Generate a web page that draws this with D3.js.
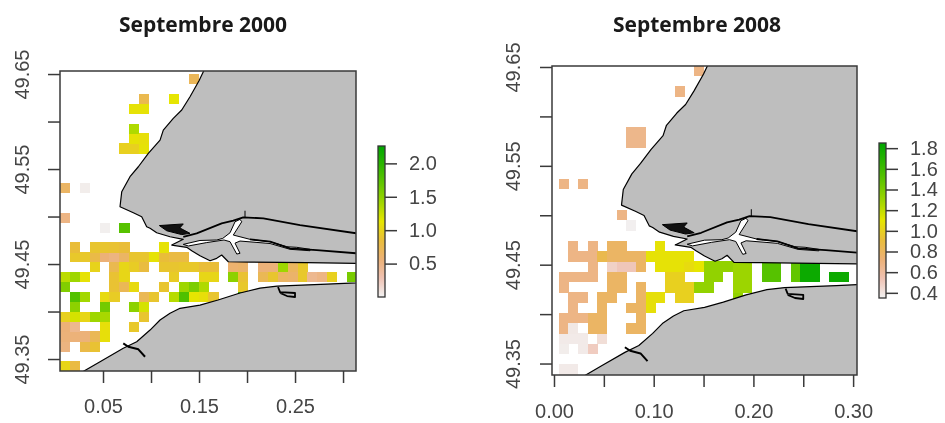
<html lang="fr">
<head>
<meta charset="utf-8">
<title>Septembre 2000 / Septembre 2008</title>
<script src="https://d3js.org/d3.v7.min.js"></script>
<style>
  body { margin: 0; background: #fff; }
  svg { display: block; filter: blur(0.4px); }
  text { font-family: "Liberation Sans", sans-serif; fill: #454545; font-size: 20px; }
  .title { font-family: "Open Sans", sans-serif; font-weight: 700; font-size: 21px; fill: #1a1a1a; }
  .cell { shape-rendering: crispEdges; }
  .domain, .tick line { stroke: #3a3a3a; stroke-width: 1.5px; }
</style>
</head>
<body>
<script>
// grid centres of the two maps
var lons2000 = [0.0104,0.0207,0.0310,0.0413,0.0516,0.0619,0.0722,0.0825,0.0928,0.1031,0.1135,0.1238,0.1341,0.1444,0.1547,0.1650,0.1753,0.1856,0.1959,0.2062,0.2166,0.2269,0.2372,0.2475,0.2578,0.2681,0.2784,0.2887,0.2990,0.3093]
var lats2000 = [49.3426,49.3530,49.3634,49.3739,49.3843,49.3947,49.4051,49.4155,49.4260,49.4364,49.4468,49.4572,49.4676,49.4781,49.4885,49.4989,49.5093,49.5197,49.5302,49.5406,49.5510,49.5614,49.5718,49.5823,49.5927,49.6031,49.6135,49.6239,49.6344,49.6448]
var lons2008 = [0.0095,0.0192,0.0289,0.0386,0.0483,0.0580,0.0677,0.0774,0.0871,0.0968,0.1065,0.1162,0.1259,0.1356,0.1453,0.1550,0.1647,0.1744,0.1841,0.1938,0.2035,0.2132,0.2229,0.2326,0.2423,0.2520,0.2617,0.2714,0.2811,0.2908]
var lats2008 = [49.3439,49.3543,49.3648,49.3752,49.3856,49.3961,49.4065,49.4169,49.4273,49.4378,49.4482,49.4586,49.4691,49.4795,49.4899,49.5004,49.5108,49.5212,49.5316,49.5421,49.5525,49.5629,49.5733,49.5838,49.5942,49.6046,49.6150,49.6255,49.6359,49.6463]

// [column, row, value]
var cells2000 = [
  [0,0,1.02],[1,0,.8],
  [0,2,.52],[2,2,.78],[3,2,.88],
  [0,3,.55],[1,3,.55],[2,3,.55],[3,3,.72],[4,3,1.08],
  [0,4,.56],[1,4,.45],[4,4,1.08],[7,4,.92],
  [0,5,.98],[1,5,1.2],[2,5,1.02],[3,5,1.42],[4,5,1.38],[8,5,.9],
  [1,6,1.5],[4,6,1.62],[7,6,1.5],[8,6,1.2],
  [1,7,1.78],[2,7,1.4],[4,7,1.05],[5,7,.95],[8,7,.72],[9,7,.9],[11,7,1.32],[12,7,1.8],[13,7,1.12],[14,7,1.08],[15,7,.9],[18,7,1.95],
  [0,8,1.55],[5,8,.88],[6,8,.72],[7,8,1.05],[10,8,.9],[12,8,1.42],[13,8,1.58],[14,8,1.35],[18,8,.92],
  [0,9,1.3],[1,9,1.42],[2,9,1.1],[5,9,.88],[6,9,1.02],[11,9,.95],[14,9,1.02],[15,9,1.02],[17,9,1.5],[18,9,.88],[20,9,.72],[21,9,.9],[22,9,.65],[23,9,.62],[24,9,.92],[25,9,.45],[26,9,.5],[27,9,.98],[29,9,1.6],
  [3,10,1.0],[5,10,.75],[6,10,1.02],[7,10,.95],[8,10,.82],[10,10,.9],[11,10,.9],[12,10,.92],[13,10,.92],[14,10,.85],[15,10,.85],[17,10,.6],[18,10,.62],[20,10,.55],[21,10,.55],[22,10,1.42],[23,10,.68],[24,10,.92],
  [1,11,.92],[2,11,.92],[3,11,.78],[4,11,.56],[5,11,.52],[6,11,.65],[7,11,.9],[8,11,.9],[9,11,1.1],[10,11,.85],[11,11,.8],[12,11,.8],
  [1,12,.85],[3,12,.9],[4,12,.9],[5,12,.88],[6,12,.85],[10,12,1.1],
  [4,14,.02],[6,14,1.76],
  [0,15,.5],
  [0,18,.65],[2,18,.03],
  [6,22,.98],[7,22,.98],[8,22,1.1],
  [7,23,1.1],[8,23,1.08],
  [7,24,1.35],
  [7,26,1.1],[8,26,1.1],
  [8,27,.75],[11,27,1.12],
  [13,29,.7]
]

var cells2008 = [
  [0,0,.38],[1,0,.38],
  [0,2,.37],[2,2,.38],[3,2,.5],
  [0,3,.38],[1,3,.38],[2,3,.38],[4,3,.43],
  [0,4,.68],[1,4,.39],[3,4,.78],[4,4,.78],[7,4,.78],[8,4,.78],
  [0,5,.68],[1,5,.68],[2,5,.68],[3,5,.78],[4,5,.78],[8,5,.78],
  [1,6,.68],[4,6,.78],[7,6,.78],[8,6,.78],[9,6,1.07],
  [1,7,.68],[2,7,.68],[4,7,.78],[5,7,.78],[8,7,.78],[9,7,1.07],[10,7,1.07],[12,7,1.0],[13,7,1.0],[18,7,1.33],
  [0,8,.68],[5,8,.78],[6,8,.78],[8,8,.78],[11,8,1.0],[12,8,1.0],[13,8,1.0],[14,8,1.33],[15,8,1.33],[18,8,1.3],[19,8,1.3],
  [0,9,.68],[1,9,.68],[2,9,.68],[3,9,.68],[5,9,.78],[6,9,.78],[11,9,1.0],[12,9,1.0],[15,9,1.33],[16,9,1.33],[18,9,1.3],[19,9,1.3],[21,9,1.52],[22,9,1.52],[24,9,1.48],[25,9,1.8],[26,9,1.8],[28,9,1.8],[29,9,1.8],
  [3,10,.68],[5,10,.48],[6,10,.52],[7,10,.52],[8,10,.78],[10,10,1.08],[11,10,1.08],[12,10,1.08],[13,10,1.05],[14,10,1.1],[15,10,1.33],[16,10,1.33],[17,10,1.33],[18,10,1.3],[19,10,1.3],[21,10,1.52],[22,10,1.52],[24,10,1.48],[25,10,1.8],[26,10,1.8],
  [1,11,.68],[2,11,.68],[3,11,.68],[4,11,.85],[5,11,.78],[6,11,.78],[7,11,.78],[8,11,.78],[9,11,1.08],[10,11,1.08],[11,11,1.08],[12,11,1.08],[13,11,1.08],
  [1,12,.68],[3,12,.68],[5,12,.78],[6,12,.78],[10,12,1.08],
  [7,14,.36],
  [6,15,.68],
  [0,18,.68],[2,18,.68],
  [7,22,.66],[8,22,.66],
  [7,23,.66],[8,23,.66],
  [12,27,.68],
  [14,29,.68]
]

// coast lines, [lon, lat]
var northLand = [[.1578,49.6595],[.1500,49.6429],[.1406,49.6261],[.1320,49.6121],[.1232,49.6034],[.1128,49.5910],[.1094,49.5805],[.0972,49.5665],[.0868,49.5524],[.0781,49.5419],[.0695,49.5261],[.0677,49.5103],[.0816,49.5040],[.0903,49.4998],[.0955,49.4893],[.0990,49.4876],[.1059,49.4829],[.1198,49.4787],[.1336,49.4760],[.1216,49.4700],[.1372,49.4676],[.1424,49.4640],[.1510,49.4587],[.1615,49.4535],[.1684,49.4560],[.1736,49.4595],[.1805,49.4524],[.2031,49.4521],[.2622,49.4514],[.3143,49.4507],[.34,49.4505],[.34,49.66]]
var southLand = [[.0219,49.3321],[.0302,49.3374],[.0469,49.3472],[.0711,49.3613],[.0851,49.3682],[.0990,49.3805],[.1094,49.3911],[.1198,49.3981],[.1302,49.4034],[.1510,49.4068],[.1698,49.4121],[.1927,49.4195],[.2135,49.4247],[.2313,49.4268],[.2833,49.4289],[.3073,49.4300],[.34,49.4302],[.34,49.32],[.02,49.32]]
var canal = [[.1336,49.4707],[.1510,49.4748],[.1684,49.4753],[.1747,49.4770],[.1823,49.4829],[.1875,49.4945],[.1927,49.4970],[.1945,49.4945],[.1857,49.4805],[.2031,49.4760],[.2240,49.4735],[.2414,49.4682],[.2518,49.4676],[.2656,49.4655],[.2656,49.4640],[.2448,49.4655],[.2240,49.4716],[.1927,49.4742],[.1875,49.4720],[.1927,49.4613],[.1893,49.4605],[.1823,49.4735],[.1760,49.4753],[.1580,49.4726],[.1389,49.4690]]
var dike1 = [[.1336,49.4787],[.1476,49.4823],[.1736,49.4928],[.1857,49.4956],[.1961,49.4992],[.2170,49.4981],[.2552,49.4910],[.3143,49.4823],[.34,49.479]]
var dike2 = [[.2031,49.4760],[.2240,49.4735],[.2448,49.4665],[.2726,49.4647],[.3143,49.4613],[.34,49.459]]
var spike = [[.1979,49.4992],[.1979,49.5061]]
var piers = [[.1087,49.4905],[.1336,49.4922],[.1300,49.4880],[.1406,49.4823],[.1320,49.4810],[.1164,49.4850]]
var rock1 = [[.0711,49.3665],[.0764,49.3629],[.0868,49.3602],[.0938,49.3524]]
var rock2 = [[.2323,49.4258],[.2344,49.4205],[.2500,49.4195],[.2500,49.4153],[.2417,49.4163],[.2344,49.4195]]

var xTicks = [.05,.10,.15,.20,.25,.30]
var xTicksB = [0,.05,.10,.15,.20,.25,.30]
var yTicks = [49.35,49.40,49.45,49.50,49.55,49.60,49.65]
var legendTicks2000 = [.5,1,1.5,2]
var legendTicks2008 = [.4,.6,.8,1,1.2,1.4,1.6,1.8]

// terrain.colors, from low to high
var terrain = ["#F2F2F2","#EFC2B3","#ECB176","#E9BD3A","#E6E600","#A0D600","#63C600","#2DB600","#00A600"]

var svg = d3.select("body").append("svg")
  .attr("width", 945)
  .attr("height", 423)

var defs = svg.append("defs")

function drawMap(o) {
  var x = d3.scaleLinear().domain(o.xDom).range([o.box[0], o.box[2]])
  var y = d3.scaleLinear().domain(o.yDom).range([o.box[3], o.box[1]])
  var t = d3.scaleLinear().domain(o.valDom).range([0, 1])
  var color = d3.scaleLinear().domain(terrain.map(function(d, i){ return i / (terrain.length - 1) })).range(terrain)

  svg.append("text").attr("class", "title")
    .attr("x", o.titleX).attr("y", o.titleY)
    .attr("text-anchor", "middle")
    .text(o.title)

  defs.append("clipPath").attr("id", o.id)
    .append("rect")
    .attr("x", o.box[0]).attr("y", o.box[1])
    .attr("width", o.box[2] - o.box[0]).attr("height", o.box[3] - o.box[1])

  var g = svg.append("g").attr("clip-path", "url(#" + o.id + ")")

  var dLon = o.lons[1] - o.lons[0], dLat = o.lats[1] - o.lats[0]
  g.selectAll("rect.cell")
    .data(o.cells)
    .enter()
    .append("rect")
    .attr("class", "cell")
    .attr("x", function(d){ return x(o.lons[d[0]] - dLon / 2) })
    .attr("y", function(d){ return y(o.lats[d[1]] + dLat / 2) })
    .attr("width", x(dLon) - x(0) + 0.3)
    .attr("height", y(0) - y(dLat) + 0.3)
    .attr("fill", function(d){ return color(t(d[2])) })

  var line = d3.line().x(function(d){ return x(d[0]) }).y(function(d){ return y(d[1]) })
  function shape(pts, fill, w) {
    g.append("path").attr("d", line(pts) + (fill == "none" ? "" : "Z"))
      .attr("fill", fill).attr("stroke", "#000").attr("stroke-width", w)
      .attr("stroke-linejoin", "round")
  }
  shape(northLand, "#BEBEBE", 1.2)
  shape(southLand, "#BEBEBE", 1.2)
  shape(canal, "#fff", 1)
  shape(dike1, "none", 1.8)
  shape(dike2, "none", 1.8)
  shape(spike, "none", 1)
  shape(piers, "#111", 1)
  shape(rock1, "none", 2)
  shape(rock2, "none", 1.8)

  // frame and axes
  svg.append("rect")
    .attr("x", o.box[0]).attr("y", o.box[1])
    .attr("width", o.box[2] - o.box[0]).attr("height", o.box[3] - o.box[1])
    .attr("fill", "none").attr("stroke", "#3a3a3a").attr("stroke-width", 1.5)

  var ax = svg.append("g")
    .attr("transform", "translate(0," + o.box[3] + ")")
    .call(d3.axisBottom(x).tickValues(o.xTicks).tickSize(o.tickLen).tickSizeOuter(0).tickPadding(o.xPad)
      .tickFormat(function(d, i){ return o.xLabel(i) ? d3.format(".2f")(d) : "" }))
  ax.select(".domain").remove()

  var ay = svg.append("g")
    .attr("transform", "translate(" + o.box[0] + ",0)")
    .call(d3.axisLeft(y).tickValues(yTicks).tickSize(12).tickSizeOuter(0)
      .tickFormat(function(d, i){ return i % 2 == 0 ? d3.format(".2f")(d) : "" }))
  ay.select(".domain").remove()
  ay.selectAll("text")
    .attr("x", 0).attr("dy", 0)
    .attr("text-anchor", "middle")
    .attr("transform", "translate(" + (o.yLabX - o.box[0]) + ",0) rotate(-90)")

  // colour bar
  var ly = d3.scaleLinear().domain(o.valDom).range([o.bar[3], o.bar[1]])
  var grad = defs.append("linearGradient").attr("id", o.id + "g")
    .attr("x1", 0).attr("x2", 0).attr("y1", 1).attr("y2", 0)
  terrain.forEach(function(c, i){
    grad.append("stop").attr("offset", i / (terrain.length - 1)).attr("stop-color", c)
  })
  svg.append("rect")
    .attr("x", o.bar[0]).attr("y", o.bar[1])
    .attr("width", o.bar[2] - o.bar[0]).attr("height", o.bar[3] - o.bar[1])
    .attr("fill", "url(#" + o.id + "g)")
    .attr("stroke", "#333").attr("stroke-width", 1.3)
  svg.append("g")
    .attr("transform", "translate(" + o.bar[2] + ",0)")
    .call(d3.axisRight(ly).tickValues(o.legendTicks).tickSize(12).tickSizeOuter(0).tickPadding(12).tickFormat(d3.format(".1f")))
    .select(".domain").remove()
}

drawMap({
  id: "a", title: "Septembre 2000", titleX: 203, titleY: 32,
  box: [60, 71, 356, 371],
  xDom: [.0052, .3135], yDom: [49.3374, 49.6532],
  lons: lons2000, lats: lats2000, cells: cells2000,
  valDom: [0, 2.26],
  xTicks: xTicks, tickLen: 12, xPad: 16,
  xLabel: function(i){ return i % 2 == 0 },
  yLabX: 29,
  bar: [378, 146, 385, 297],
  legendTicks: legendTicks2000
})

drawMap({
  id: "b", title: "Septembre 2008", titleX: 697, titleY: 32,
  box: [552, 66, 857, 375],
  xDom: [-.002, .3039], yDom: [49.3384, 49.651],
  lons: lons2008, lats: lats2008, cells: cells2008,
  valDom: [.35, 1.85],
  xTicks: xTicksB, tickLen: 12, xPad: 17,
  xLabel: function(i){ return i % 2 == 0 },
  yLabX: 520,
  bar: [879, 143, 886, 298],
  legendTicks: legendTicks2008
})
</script>
</body>
</html>
